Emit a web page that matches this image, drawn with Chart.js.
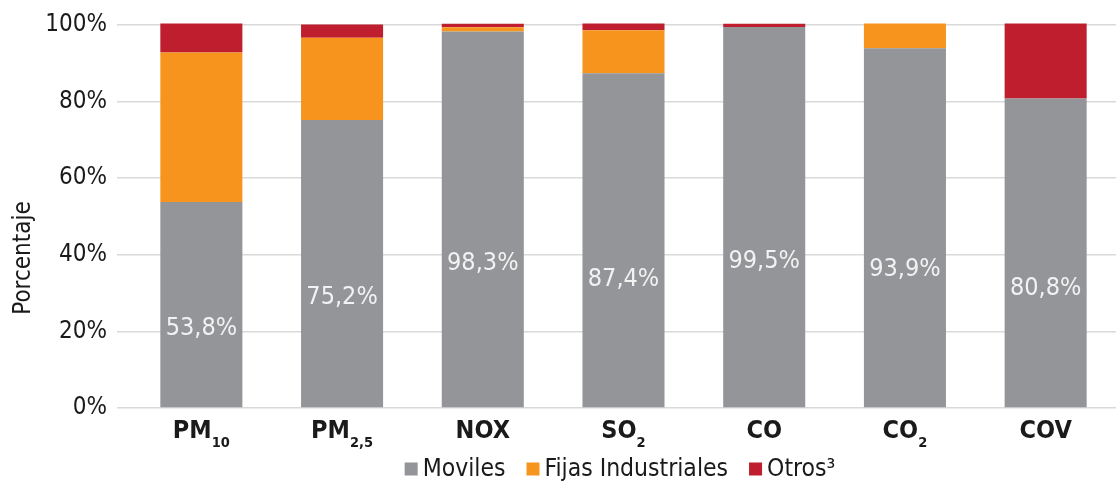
<!DOCTYPE html>
<html>
<head>
<meta charset="utf-8">
<script src="https://cdn.jsdelivr.net/npm/chart.js@4"></script>
<style>
body{margin:0;background:#fff}
</style>
</head>
<body>
<canvas id="chart" width="1117" height="483"></canvas>
<script>

// categorias (texto principal + subindice)
let catMain=["PM","PM","NOX","SO","CO","CO","COV"]
let catSub=["10","2,5","","2","","2",""]

// porcentajes por fuente
let moviles=[53.8,75.2,98.3,87.4,99.5,93.9,80.8]
let fijas=[39.0,21.5,1.1,11.2,0,6.5,0]
let otros=[7.6,3.4,0.9,1.8,0.8,0,19.6]

let yTicks=[0,20,40,60,80,100]

let FONT="'DejaVu Sans Condensed','Liberation Sans',Arial,sans-serif"
let TXT="#1a1a1a"

let labels=catMain.map((m,i)=>m+catSub[i])

let extras={
id:"extras",
afterDatasetsDraw(c){
let ctx=c.ctx
let y=c.scales.y
let meta=c.getDatasetMeta(0)
ctx.save()
ctx.font="25px "+FONT
ctx.fillStyle="#f2f2f2"
ctx.textAlign="center"
ctx.textBaseline="middle"
moviles.forEach((v,i)=>{
let bar=meta.data[i]
ctx.fillText(v.toFixed(1).replace(".",",")+"%",bar.x,y.getPixelForValue(v*0.385))
})
ctx.restore()
},
afterDraw(c){
let ctx=c.ctx
let x=c.scales.x
ctx.save()
ctx.fillStyle=TXT
ctx.textBaseline="alphabetic"
ctx.textAlign="left"

// etiquetas del eje x con subindices
catMain.forEach((m,i)=>{
ctx.font="bold 25px "+FONT
let w1=ctx.measureText(m).width
ctx.font="bold 14.5px "+FONT
let w2=catSub[i]?ctx.measureText(catSub[i]).width:0
let cx=x.getPixelForValue(i)
let sx=cx-(w1+w2)/2
ctx.font="bold 25px "+FONT
ctx.fillText(m,sx,438)
if(catSub[i]){
ctx.font="bold 14.5px "+FONT
ctx.fillText(catSub[i],sx+w1,447)
}
})

// titulo eje y
ctx.save()
ctx.translate(24,258)
ctx.rotate(-Math.PI/2)
ctx.font="24px "+FONT
ctx.textAlign="center"
ctx.textBaseline="middle"
ctx.fillText("Porcentaje",0,0)
ctx.restore()

// leyenda
ctx.font="24.5px "+FONT
let items=c.data.datasets.map(d=>({t:d.label,col:d.backgroundColor}))
let box=13,gap=5,sep=21
let total=0
items.forEach((it,k)=>{total+=box+gap+ctx.measureText(it.t).width+(k<items.length-1?sep:0)})
let lx=620-total/2
let ly=469
items.forEach(it=>{
ctx.fillStyle=it.col
ctx.fillRect(lx,ly-box/2,box,box)
lx+=box+gap
ctx.fillStyle=TXT
ctx.textBaseline="middle"
ctx.fillText(it.t,lx,ly+1)
lx+=ctx.measureText(it.t).width+sep
})
ctx.restore()
}
}

let chart=new Chart(document.getElementById("chart"),{
type:"bar",
data:{
labels:labels,
datasets:[
{label:"Moviles",data:moviles,backgroundColor:"#939598",clip:false},
{label:"Fijas Industriales",data:fijas,backgroundColor:"#F7941E",clip:false},
{label:"Otros³",data:otros,backgroundColor:"#BE1E2D",clip:false}
]
},
options:{
responsive:false,
animation:false,
devicePixelRatio:1,
layout:{padding:{top:25,right:1,left:0,bottom:0}},
datasets:{bar:{barPercentage:0.583,categoryPercentage:1}},
plugins:{legend:{display:false},tooltip:{enabled:false}},
scales:{
x:{
stacked:true,
grid:{display:false},
border:{display:false},
ticks:{display:false},
afterFit(s){s.height=75}
},
y:{
stacked:true,
min:0,max:100,
afterFit(s){s.width=131},
afterBuildTicks(s){s.ticks=yTicks.map(v=>({value:v}))},
grid:{color:"#d9d9d9",lineWidth:1.5,tickLength:14,drawTicks:true},
border:{display:false},
ticks:{
padding:10,
color:TXT,
font:{family:FONT,size:24},
callback:v=>v+"%"
}
}
}
},
plugins:[extras]
})

</script>
</body>
</html>
